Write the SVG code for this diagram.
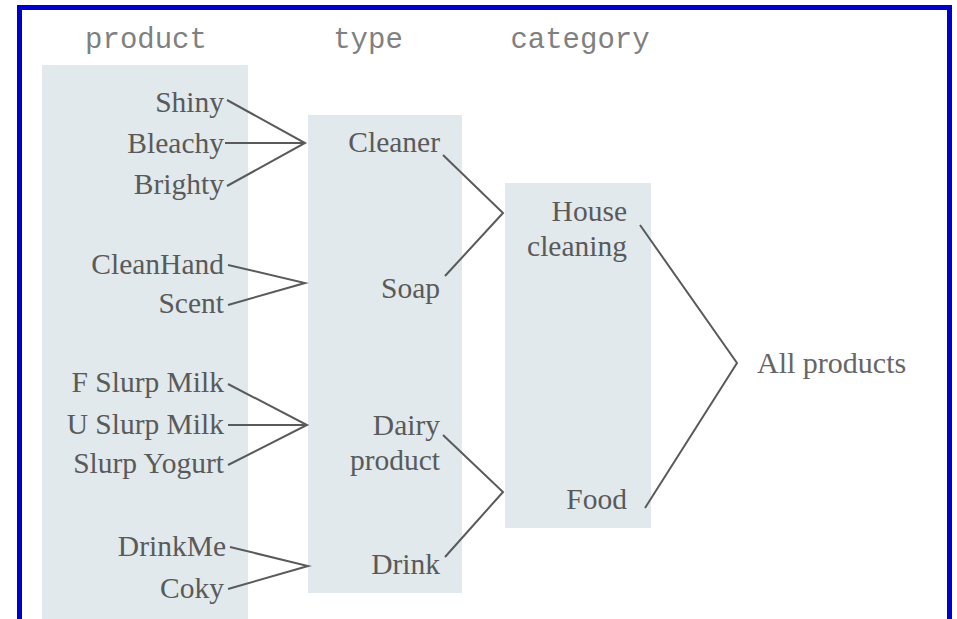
<svg xmlns="http://www.w3.org/2000/svg" width="957" height="619" viewBox="0 0 957 619">
<defs>
<style>
.hdr{font-family:"Liberation Mono","Courier New",monospace;font-size:29px;fill:#808080;text-anchor:middle}
.lbl{font-family:"Liberation Serif","Times New Roman",serif;font-size:29.5px;fill:#5a5a5a;text-anchor:end}
.lbc{font-family:"Liberation Serif","Times New Roman",serif;font-size:30px;fill:#666;text-anchor:start}
.col{fill:#e1e9ec}
.ln{fill:none;stroke:#5a5a5a;stroke-width:2;stroke-linejoin:miter}
</style>
</defs>
<rect x="0" y="0" width="957" height="619" fill="#ffffff"/>
<g id="columns">
<rect class="col" x="42" y="65" width="206" height="560"/>
<rect class="col" x="308" y="115" width="154" height="478"/>
<rect class="col" x="505" y="183" width="146" height="345"/>
</g>
<g id="headers">
<text class="hdr" x="146" y="48">product</text>
<text class="hdr" x="368" y="48">type</text>
<text class="hdr" x="580" y="48">category</text>
</g>
<g id="connectors">
<polyline class="ln" points="227,100 305,143 227,186"/>
<line class="ln" x1="225" y1="143" x2="305" y2="143"/>
<polyline class="ln" points="228,265 305,283 228,305"/>
<polyline class="ln" points="228,384 307,425 228,465"/>
<line class="ln" x1="228" y1="425" x2="307" y2="425"/>
<polyline class="ln" points="230,547 308,566 228,589"/>
<polyline class="ln" points="443,155 503,213 445,276"/>
<polyline class="ln" points="443,435 503,492 445,557"/>
<polyline class="ln" points="640,225 737,363 645,508"/>
</g>
<g id="n-shiny"><text class="lbl" x="224" y="112">Shiny</text></g>
<g id="n-bleachy"><text class="lbl" x="224" y="153">Bleachy</text></g>
<g id="n-brighty"><text class="lbl" x="224" y="194">Brighty</text></g>
<g id="n-cleanhand"><text class="lbl" x="224" y="274">CleanHand</text></g>
<g id="n-scent"><text class="lbl" x="224" y="313">Scent</text></g>
<g id="n-fslurp"><text class="lbl" x="224" y="392">F Slurp Milk</text></g>
<g id="n-uslurp"><text class="lbl" x="224" y="434">U Slurp Milk</text></g>
<g id="n-yogurt"><text class="lbl" x="224" y="473">Slurp Yogurt</text></g>
<g id="n-drinkme"><text class="lbl" x="226" y="556">DrinkMe</text></g>
<g id="n-coky"><text class="lbl" x="224" y="598">Coky</text></g>
<g id="n-cleaner"><text class="lbl" x="440" y="152">Cleaner</text></g>
<g id="n-soap"><text class="lbl" x="440" y="298">Soap</text></g>
<g id="n-dairy"><text class="lbl" x="440" y="435">Dairy</text><text class="lbl" x="440" y="470">product</text></g>
<g id="n-drink"><text class="lbl" x="440" y="574">Drink</text></g>
<g id="n-house"><text class="lbl" x="627" y="221">House</text><text class="lbl" x="627" y="256">cleaning</text></g>
<g id="n-food"><text class="lbl" x="627" y="509">Food</text></g>
<g id="n-all"><text class="lbc" x="757" y="373">All products</text></g>
<rect x="19.5" y="7.5" width="930" height="640" fill="none" stroke="#0000cc" stroke-width="5"/>
</svg>
